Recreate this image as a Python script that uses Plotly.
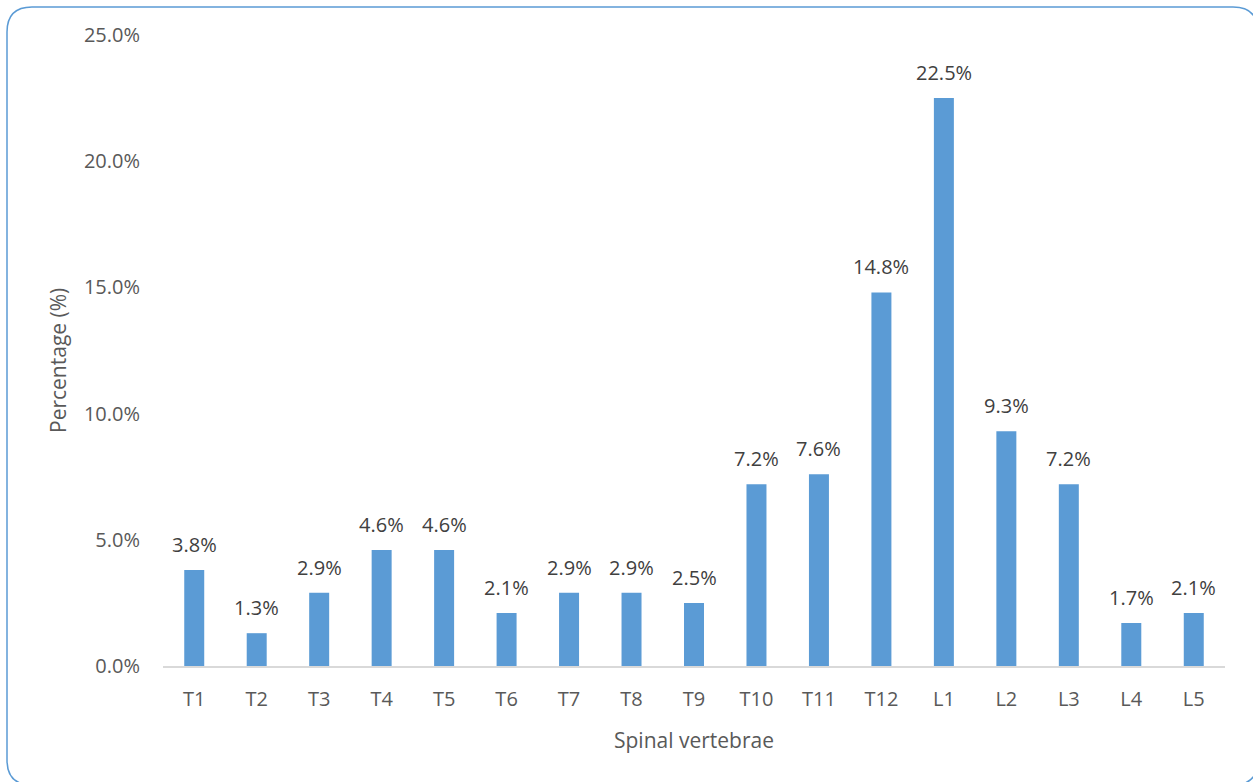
import plotly.graph_objects as go

categories = ["T1", "T2", "T3", "T4", "T5", "T6", "T7", "T8", "T9", "T10",
              "T11", "T12", "L1", "L2", "L3", "L4", "L5"]
percentages = [3.8, 1.3, 2.9, 4.6, 4.6, 2.1, 2.9, 2.9, 2.5, 7.2,
               7.6, 14.8, 22.5, 9.3, 7.2, 1.7, 2.1]
y_ticks = [0, 5, 10, 15, 20, 25]

W, H = 1253, 782
L, R, T, B = 163, 28, 35, 116
pw, ph = W - L - R, H - T - B

def px(x):
    return (x - L) / pw

def py(y):
    return (H - B - y) / ph

# rounded border
x0, y0, x1, y1, r = 7, 7, 1258, 785, 25
path = (
    f"M {px(x0 + r)},{py(y0)} L {px(x1 - r)},{py(y0)} "
    f"Q {px(x1)},{py(y0)} {px(x1)},{py(y0 + r)} "
    f"L {px(x1)},{py(y1 - r)} Q {px(x1)},{py(y1)} {px(x1 - r)},{py(y1)} "
    f"L {px(x0 + r)},{py(y1)} Q {px(x0)},{py(y1)} {px(x0)},{py(y1 - r)} "
    f"L {px(x0)},{py(y0 + r)} Q {px(x0)},{py(y0)} {px(x0 + r)},{py(y0)} Z"
)

fig = go.Figure()
fig.add_trace(go.Bar(
    x=categories, y=percentages,
    marker=dict(color="#5b9bd5", line=dict(width=0)),
    cliponaxis=False,
))

annotations = [
    dict(x=c, y=v, xref="x", yref="y", text=f"{v:.1f}%", showarrow=False,
         yanchor="bottom", yshift=10,
         font=dict(color="#404040", size=20, family="Open Sans"))
    for c, v in zip(categories, percentages)
]
annotations.append(dict(
    text="Spinal vertebrae", xref="paper", yref="paper",
    x=px(694), y=py(740), xanchor="center", yanchor="middle", showarrow=False,
    font=dict(size=21, color="#595959", family="Open Sans")))
annotations.append(dict(
    text="Percentage (%)", xref="paper", yref="paper", textangle=-90,
    x=px(58), y=py(361), xanchor="center", yanchor="middle", showarrow=False,
    font=dict(size=21, color="#595959", family="Open Sans")))

fig.update_layout(
    width=W, height=H,
    margin=dict(l=L, r=R, t=T, b=B),
    plot_bgcolor="white", paper_bgcolor="white",
    bargap=0.68,
    showlegend=False,
    font=dict(family="Open Sans", color="#595959", size=20),
    annotations=annotations,
    shapes=[dict(type="path", path=path, xref="paper", yref="paper",
                 line=dict(color="#5b9bd5", width=1.5), layer="above")],
)
fig.update_xaxes(
    showline=True, linecolor="#d9d9d9", linewidth=1.5,
    ticks="", ticklabelstandoff=14,
    tickfont=dict(size=20, color="#595959"), showgrid=False,
)
fig.update_yaxes(
    range=[0, 25], tickvals=y_ticks, ticktext=[f"{v:.1f}%" for v in y_ticks],
    showgrid=False, zeroline=False, showline=False, ticks="",
    ticklabelstandoff=22,
    tickfont=dict(size=20, color="#595959"),
)

fig.write_html("out.html")
